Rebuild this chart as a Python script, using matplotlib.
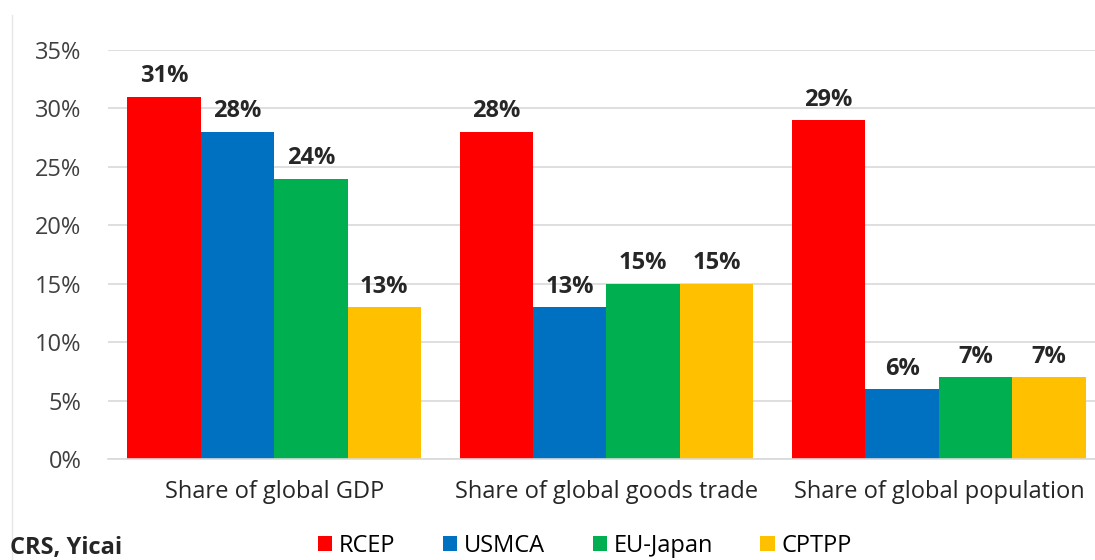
import matplotlib
matplotlib.use("Agg")
import matplotlib.pyplot as plt
import numpy as np

categories = ["Share of global GDP", "Share of global goods trade", "Share of global population"]
series = ["RCEP", "USMCA", "EU-Japan", "CPTPP"]
rcep = [31, 28, 29]
usmca = [28, 13, 6]
eu_japan = [24, 15, 7]
cptpp = [13, 15, 7]
colors = ["#FF0000", "#0070C0", "#00B050", "#FFC000"]
yticks = [0, 5, 10, 15, 20, 25, 30, 35]

plt.rcParams['font.family'] = ['Open Sans', 'DejaVu Sans']

fig = plt.figure(figsize=(10.95, 5.6), dpi=100)
ax = fig.add_axes([108/1095, 101/560, 997/1095, 409/560])

x = np.arange(len(categories))
w = 0.884 / 4
data = [rcep, usmca, eu_japan, cptpp]
for i, (name, vals, c) in enumerate(zip(series, data, colors)):
    pos = x - 0.442 + w * (i + 0.5)
    ax.bar(pos, vals, width=w, color=c, label=name, zorder=2)
    for p, v in zip(pos, vals):
        ax.annotate(f"{v}%", (p, v), xytext=(0, 6), textcoords="offset points",
                    ha="center", va="bottom", fontsize=17, fontweight="bold", color="#262626")

ax.set_xlim(-0.5, 2.5)
ax.set_ylim(0, 35)
ax.set_yticks(yticks)
ax.set_yticklabels([f"{t}%" for t in yticks], fontsize=17, color="#404040")
ax.yaxis.grid(True, color="#D9D9D9", linewidth=1.2, zorder=0)
ax.set_xticks(x)
ax.set_xticklabels(categories, fontsize=17, color="#262626")
ax.tick_params(axis="both", length=0)
ax.tick_params(axis="y", pad=19)
ax.tick_params(axis="x", pad=15)
for s in ["top", "right", "left"]:
    ax.spines[s].set_visible(False)
ax.spines["bottom"].set_color("#D9D9D9")
ax.spines["bottom"].set_linewidth(1.2)

handles, labels = ax.get_legend_handles_labels()
fig.legend(handles, labels, loc="center", bbox_to_anchor=(585/1095, 1 - 546/560), ncol=4,
           frameon=False, fontsize=17, handlelength=0.6, handleheight=0.6,
           handletextpad=0.3, columnspacing=2.0, borderpad=0)

fig.text(10/1095, 1 - 548/560, "CRS, Yicai", fontsize=17, fontweight="bold", ha="left", va="center", color="#262626")
fig.add_artist(plt.Line2D([12/1095, 12/1095], [0, 1 - 15/560], color="#E6E6E6", linewidth=1))

fig.savefig("out.png", dpi=100)
